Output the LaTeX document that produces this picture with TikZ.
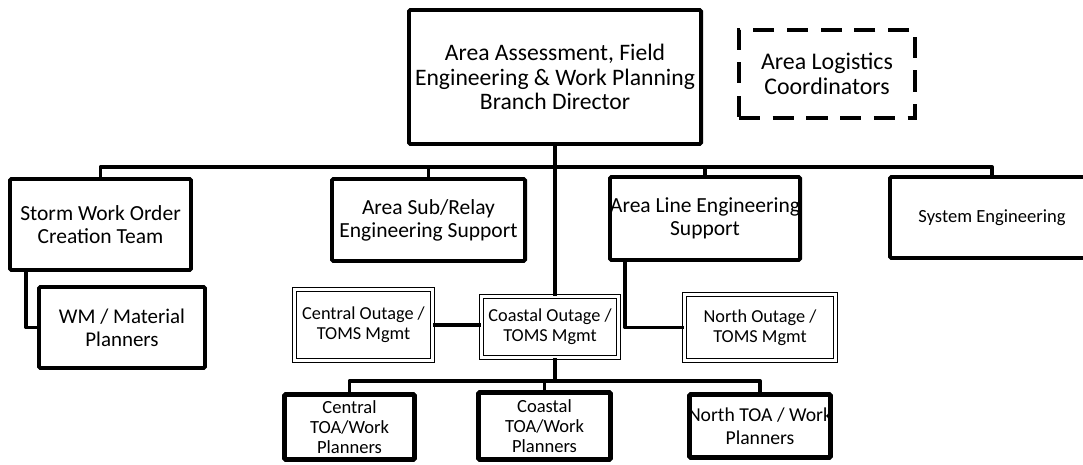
\documentclass[tikz,border=0pt]{standalone}
\usepackage{fontspec}
\setmainfont{Carlito}
\usetikzlibrary{positioning}

\begin{document}
\begin{tikzpicture}[x=0.025cm, y=-0.025cm,
    box/.style={draw, line width=2.8pt, rounded corners=1pt, align=center, inner sep=0pt},
    dashbox/.style={box, dash pattern=on 15pt off 9pt, rounded corners=0pt},
    dblbox/.style={draw, double, line width=0.9pt, double distance=1.6pt, align=center, inner sep=0pt},
    toabox/.style={box, line width=3.5pt},
    link/.style={line width=2.8pt, line join=round},
    bigtxt/.style={font=\fontsize{16.8}{17.4}\selectfont},
    midtxt/.style={font=\fontsize{15.3}{16.4}\selectfont},
    smalltxt/.style={font=\fontsize{13}{14.2}\selectfont}]
    \useasboundingbox (0,0) rectangle (1083,465);
    \clip (0,0) rectangle (1083,465);

    % Director and coordinators
    \node[box, bigtxt, minimum width=7.3cm, minimum height=3.35cm] (dir) at (555,77)
        {Area Assessment, Field\\Engineering \& Work Planning\\Branch Director};
    \node[dashbox, font=\fontsize{17}{17.8}\selectfont, minimum width=4.4cm, minimum height=2.2cm] (logi) at (827,74)
        {Area Logistics\\Coordinators};

    % Second row
    \node[box, midtxt, minimum width=4.525cm, minimum height=2.275cm] (storm) at (100.5,224.5)
        {Storm Work Order\\Creation Team};
    \node[box, midtxt, minimum width=4.825cm, minimum height=2.05cm] (sub) at (428.5,220)
        {Area Sub/Relay\\Engineering Support};
    \node[box, midtxt, minimum width=4.75cm, minimum height=2.075cm] (line) at (705,218.5)
        {\makebox[0pt]{Area Line Engineering}\\Support};
    \node[box, font=\fontsize{13.2}{14.6}\selectfont, minimum width=5.1cm, minimum height=2.025cm] (sys) at (992,217.5)
        {System Engineering};
    \node[box, font=\fontsize{14.9}{16.4}\selectfont, minimum width=4.15cm, minimum height=2.025cm] (wm) at (122,327.5)
        {WM / Material\\Planners};

    % Outage / TOMS
    \node[dblbox, smalltxt, minimum width=3.45cm, minimum height=1.775cm] (cenout) at (363.5,325)
        {Central Outage /\\TOMS Mgmt};
    \node[dblbox, smalltxt, minimum width=3.425cm, minimum height=1.525cm] (coaout) at (550,327)
        {Coastal Outage /\\TOMS Mgmt};
    \node[dblbox, smalltxt, minimum width=3.775cm, minimum height=1.65cm] (norout) at (760,327.5)
        {North Outage /\\TOMS Mgmt};

    % TOA / work planners
    \node[toabox, font=\fontsize{13.2}{14.2}\selectfont, minimum width=3.25cm, minimum height=1.625cm] (centoa) at (349.5,427)
        {Central\\TOA/Work\\Planners};
    \node[toabox, font=\fontsize{13.2}{14.2}\selectfont, minimum width=3.3cm, minimum height=1.675cm] (coatoa) at (544.5,426)
        {Coastal\\TOA/Work\\Planners};
    \node[toabox, font=\fontsize{14}{16}\selectfont, minimum width=3.525cm, minimum height=1.575cm] (nortoa) at (760,426)
        {\makebox[0pt]{North TOA / Work}\\Planners};

    % Connectors
    \coordinate (bus) at (555,167);
    \coordinate (bus2) at (555,381);
    \draw[link] (dir.south) -- (dir.south |- coaout.north);
    \draw[link] (storm.north) |- (bus) -| (sys.north);
    \draw[link] (sub.north) -- (sub.north |- bus);
    \draw[link] (line.north) -- (line.north |- bus);
    \draw[link] ([xshift=0.45cm]storm.south west) |- (wm.west);
    \draw[link] (cenout.east) -- (cenout.east -| coaout.west);
    \draw[link] ([xshift=0.425cm]line.south west) |- (norout.west);
    \draw[link] (bus2 |- coaout.south) -- (bus2);
    \draw[link] (centoa.north) |- (bus2) -| (nortoa.north);
    \draw[link] (coatoa.north) -- (coatoa.north |- bus2);
\end{tikzpicture}
\end{document}
